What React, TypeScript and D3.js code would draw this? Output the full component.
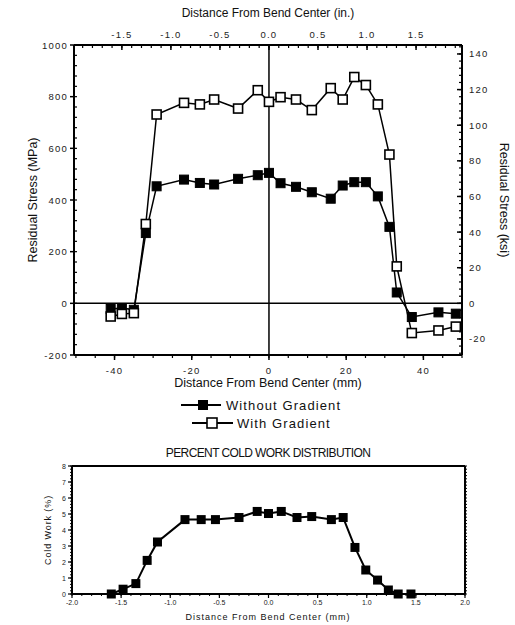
import React from 'react';
import * as d3 from 'd3';

// distance from bend center (mm), shared by both residual stress series
const distanceMm = [-41, -38.1, -35, -31.9, -29.1, -22, -17.9, -14.2, -8, -2.9, 0, 3, 7, 11.1, 16, 19.1, 22.1, 25.1, 28.2, 31.2, 33.1, 37, 43.9, 48.4];
const withoutGradient = [-22, -18, -25, 272, 453, 479, 466, 460, 482, 496, 505, 465, 451, 430, 405, 456, 469, 469, 414, 296, 42, -53, -35, -40];
const withGradient = [-51, -41, -38, 307, 731, 776, 770, 789, 754, 825, 780, 798, 789, 748, 833, 789, 876, 845, 770, 576, 143, -115, -105, -90];

// percent cold work
const coldDistance = [-1.6, -1.48, -1.35, -1.235, -1.13, -0.85, -0.685, -0.54, -0.3, -0.115, 0, 0.13, 0.29, 0.44, 0.64, 0.76, 0.88, 0.99, 1.11, 1.22, 1.32, 1.45];
const coldWork = [0, 0.3, 0.65, 2.1, 3.25, 4.65, 4.65, 4.65, 4.78, 5.16, 5.03, 5.16, 4.78, 4.84, 4.65, 4.78, 2.91, 1.5, 0.87, 0.25, 0, 0];

const mpaTicks = [-200, 0, 200, 400, 600, 800, 1000];
const ksiTicks = [-20, 0, 20, 40, 60, 80, 100, 120, 140];
const mmTicks = [-40, -20, 0, 20, 40];
const inchTicks = [-1.5, -1.0, -0.5, 0.0, 0.5, 1.0, 1.5];
const coldXTicks = [-2.0, -1.5, -1.0, -0.5, 0.0, 0.5, 1.0, 1.5, 2.0];
const coldYTicks = [0, 1, 2, 3, 4, 5, 6, 7, 8];

const FONT = '"Liberation Sans", Arial, sans-serif';

const range = (a: number, b: number, step: number) => d3.range(Math.round(a / step), Math.round(b / step) + 1).map(i => +(i * step).toFixed(4));

export default function App() {
  // top chart
  const L = 74, R = 462, T = 45, B = 355;
  const x = d3.scaleLinear().domain([-50.5, 50]).range([L, R]);
  const xIn = d3.scaleLinear().domain([-50.5 / 25.4, 50 / 25.4]).range([L, R]);
  const y = d3.scaleLinear().domain([-200, 1000]).range([B, T]);
  const yKsi = d3.scaleLinear().domain([-200 / 6.895, 1000 / 6.895]).range([B, T]);

  const line = d3.line<[number, number]>().x(d => x(d[0])).y(d => y(d[1]));
  const ptsWithout = distanceMm.map((d, i) => [d, withoutGradient[i]] as [number, number]);
  const ptsWith = distanceMm.map((d, i) => [d, withGradient[i]] as [number, number]);

  // bottom chart
  const L2 = 72, R2 = 465, T2 = 466, B2 = 594;
  const xc = d3.scaleLinear().domain([-2, 2]).range([L2, R2]);
  const yc = d3.scaleLinear().domain([0, 8]).range([B2, T2]);
  const coldPts = coldDistance.map((d, i) => [d, coldWork[i]] as [number, number]);
  const coldLine = d3.line<[number, number]>().x(d => xc(d[0])).y(d => yc(d[1]));

  const ms = 9;
  const tickTxt = { fontFamily: FONT, fontSize: 9.5, letterSpacing: 1.2, fill: '#222' };

  return (
    <svg width={515} height={625} style={{ position: 'absolute', left: 0, top: 0, background: '#fff' }}>
      <defs>
        <clipPath id="plotClip">
          <rect x={L} y={T} width={R - L} height={B - T} />
        </clipPath>
      </defs>

      {/* top title */}
      <text x={268} y={17} textAnchor="middle" fontFamily={FONT} fontSize={12} fill="#111">Distance From Bend Center (in.)</text>

      {/* zero lines */}
      <line x1={L} x2={R} y1={y(0)} y2={y(0)} stroke="#000" strokeWidth={1.5} />
      <line x1={x(0)} x2={x(0)} y1={T} y2={B} stroke="#000" strokeWidth={1.5} />

      {/* frame */}
      <line x1={L} x2={L} y1={T} y2={B} stroke="#000" strokeWidth={2} />
      <line x1={R} x2={R} y1={T} y2={B} stroke="#000" strokeWidth={2} />
      <line x1={L} x2={R} y1={T} y2={T} stroke="#000" strokeWidth={2} />
      <line x1={L} x2={R} y1={B} y2={B} stroke="#000" strokeWidth={2} />

      {/* left MPa axis */}
      {range(-200, 1000, 40).map(v => (
        <line key={'lm' + v} x1={L} x2={L + 3} y1={y(v)} y2={y(v)} stroke="#000" strokeWidth={1.2} />
      ))}
      {mpaTicks.map(v => (
        <g key={'l' + v}>
          <line x1={L - 4} x2={L} y1={y(v)} y2={y(v)} stroke="#000" strokeWidth={1.5} />
          <text x={L - 6} y={y(v) + 3.5} textAnchor="end" {...tickTxt}>{v}</text>
        </g>
      ))}
      <text transform={`translate(37,${(T + B) / 2}) rotate(-90)`} textAnchor="middle" fontFamily={FONT} fontSize={12.5} fill="#111">Residual Stress (MPa)</text>

      {/* right ksi axis */}
      {range(-28, 144, 4).map(v => (
        <line key={'rm' + v} x1={R - 3} x2={R} y1={yKsi(v)} y2={yKsi(v)} stroke="#000" strokeWidth={1.2} />
      ))}
      {ksiTicks.map(v => (
        <g key={'r' + v}>
          <line x1={R - 5} x2={R} y1={yKsi(v)} y2={yKsi(v)} stroke="#000" strokeWidth={1.5} />
          <text x={R + 7} y={yKsi(v) + 3.5} textAnchor="start" {...tickTxt}>{v}</text>
        </g>
      ))}
      <text transform={`translate(500,${(T + B) / 2}) rotate(90)`} textAnchor="middle" fontFamily={FONT} fontSize={12.5} fill="#111">Residual Stress (ksi)</text>

      {/* bottom mm axis */}
      {range(-50, 50, 5).map(v => (
        <line key={'bm' + v} x1={x(v)} x2={x(v)} y1={B} y2={B + 3} stroke="#000" strokeWidth={1.2} />
      ))}
      {mmTicks.map(v => (
        <g key={'b' + v}>
          <line x1={x(v)} x2={x(v)} y1={B} y2={B + 5} stroke="#000" strokeWidth={1.5} />
          <text x={x(v)} y={374} textAnchor="middle" {...tickTxt}>{v}</text>
        </g>
      ))}
      <text x={268} y={387} textAnchor="middle" fontFamily={FONT} fontSize={12.5} fill="#111">Distance From Bend Center (mm)</text>

      {/* top inch axis */}
      {range(-1.9, 1.9, 0.1).map(v => (
        <line key={'tm' + v} x1={xIn(v)} x2={xIn(v)} y1={T} y2={T + 3} stroke="#000" strokeWidth={1.2} />
      ))}
      {inchTicks.map(v => (
        <g key={'t' + v}>
          <line x1={xIn(v)} x2={xIn(v)} y1={T} y2={T + 5} stroke="#000" strokeWidth={1.5} />
          <text x={xIn(v)} y={38} textAnchor="middle" {...tickTxt}>{v.toFixed(1)}</text>
        </g>
      ))}

      {/* series */}
      <g clipPath="url(#plotClip)">
        <path d={line(ptsWith) || ''} fill="none" stroke="#000" strokeWidth={1.5} />
        <path d={line(ptsWithout) || ''} fill="none" stroke="#000" strokeWidth={1.5} />
        {ptsWithout.map((d, i) => (
          <rect key={'f' + i} x={x(d[0]) - ms / 2} y={y(d[1]) - ms / 2} width={ms} height={ms} fill="#000" stroke="#000" strokeWidth={1} />
        ))}
        {ptsWith.map((d, i) => (
          <rect key={'o' + i} x={x(d[0]) - ms / 2} y={y(d[1]) - ms / 2} width={ms} height={ms} fill="#fff" stroke="#000" strokeWidth={1.6} />
        ))}
      </g>

      {/* legend */}
      <g>
        <line x1={181} x2={221} y1={405} y2={405} stroke="#000" strokeWidth={1.8} />
        <rect x={203 - 5} y={405 - 5} width={10} height={10} fill="#000" />
        <text x={226} y={410} fontFamily={FONT} fontSize={13} letterSpacing={1.1} fill="#111">Without Gradient</text>
        <line x1={192} x2={233} y1={423} y2={423} stroke="#000" strokeWidth={1.8} />
        <rect x={212 - 5} y={423 - 5} width={10} height={10} fill="#fff" stroke="#000" strokeWidth={1.6} />
        <text x={237} y={428} fontFamily={FONT} fontSize={13} letterSpacing={1.1} fill="#111">With Gradient</text>
      </g>

      {/* bottom chart */}
      <text x={268} y={457} textAnchor="middle" fontFamily={FONT} fontSize={12} letterSpacing={-0.6} fill="#111">PERCENT COLD WORK DISTRIBUTION</text>
      <line x1={L2} x2={R2} y1={T2} y2={T2} stroke="#000" strokeWidth={2} />
      <line x1={L2} x2={R2} y1={B2} y2={B2} stroke="#000" strokeWidth={2} />
      <line x1={L2} x2={L2} y1={T2} y2={B2} stroke="#000" strokeWidth={2} />
      <line x1={R2} x2={R2} y1={T2} y2={B2} stroke="#000" strokeWidth={2} />
      {range(0, 8, 0.2).map(v => (
        <g key={'cm' + v}>
          <line x1={L2 - 2} x2={L2} y1={yc(v)} y2={yc(v)} stroke="#000" strokeWidth={1} />
          <line x1={R2} x2={R2 + 2} y1={yc(v)} y2={yc(v)} stroke="#000" strokeWidth={1} />
        </g>
      ))}
      {coldYTicks.map(v => (
        <g key={'cy' + v}>
          <line x1={L2 - 4} x2={L2} y1={yc(v)} y2={yc(v)} stroke="#000" strokeWidth={1.2} />
          <text x={L2 - 6} y={yc(v) + 2.5} textAnchor="end" fontFamily={FONT} fontSize={7} fill="#222">{v}</text>
        </g>
      ))}
      {range(-2, 2, 0.1).map(v => (
        <line key={'cxm' + v} x1={xc(v)} x2={xc(v)} y1={B2} y2={B2 + 2} stroke="#000" strokeWidth={1} />
      ))}
      {coldXTicks.map(v => (
        <g key={'cx' + v}>
          <line x1={xc(v)} x2={xc(v)} y1={B2} y2={B2 + 4} stroke="#000" strokeWidth={1.2} />
          <text x={xc(v)} y={605} textAnchor="middle" fontFamily={FONT} fontSize={7} fill="#222">{v.toFixed(1)}</text>
        </g>
      ))}
      <text transform={`translate(51,${(T2 + B2) / 2}) rotate(-90)`} textAnchor="middle" fontFamily={FONT} fontSize={9} letterSpacing={0.9} fill="#111">Cold Work (%)</text>
      <text x={268} y={620} textAnchor="middle" fontFamily={FONT} fontSize={9} letterSpacing={1} fill="#111">Distance From Bend Center (mm)</text>

      <path d={coldLine(coldPts) || ''} fill="none" stroke="#000" strokeWidth={2} />
      {coldPts.map((d, i) => (
        <rect key={'c' + i} x={xc(d[0]) - 4.5} y={yc(d[1]) - 4.5} width={9} height={9} fill="#000" />
      ))}
    </svg>
  );
}
